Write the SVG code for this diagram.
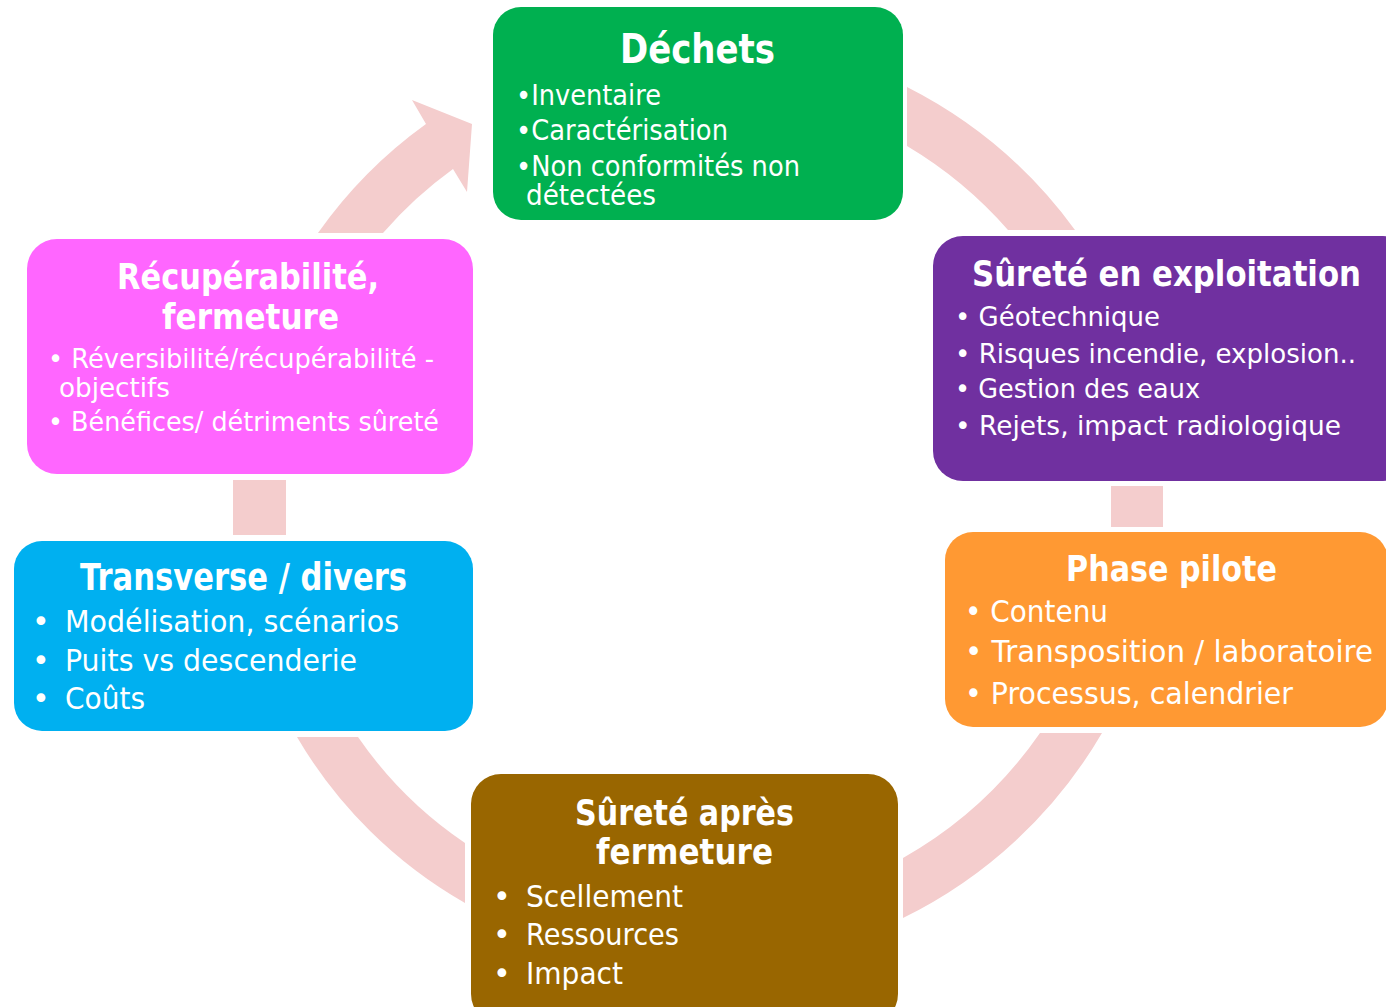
<svg xmlns="http://www.w3.org/2000/svg" width="1386" height="1007" viewBox="0 0 1386 1007">
<style>
.c{fill:#F4CDCD;stroke:none}
text{font-family:"DejaVu Sans","Liberation Sans",sans-serif;fill:#FFFFFF}
.t{font-weight:bold;text-anchor:start}
</style>
<rect width="1386" height="1007" fill="#FFFFFF"/>
<g id="connectors">
<path class="c" d="M907,87 A472,472 0 0 1 1075,230 L1008,230 A418,418 0 0 0 907,146 Z"/>
<rect class="c" x="1111" y="486" width="52" height="41"/>
<path class="c" d="M1102,733 A470,470 0 0 1 903,918 L903,858 A415,415 0 0 0 1040,733 Z"/>
<path class="c" d="M465,903 A458,458 0 0 1 297,737 L358,737 A406,406 0 0 0 465,843 Z"/>
<rect class="c" x="233" y="480" width="53" height="55"/>
<path class="c" d="M318,233 A462,462 0 0 1 426,124 L412,100 L472,124 L467,192 L453,169 A410,410 0 0 0 383,233 Z"/>
</g>
<g id="dechets">
<rect x="493" y="7" width="410" height="213" rx="28" fill="#00B050"/>
<text class="t" x="620" y="63" font-size="40" textLength="155" lengthAdjust="spacingAndGlyphs">Déchets</text>
<text x="516" y="105" font-size="28" textLength="145" lengthAdjust="spacingAndGlyphs">•Inventaire</text>
<text x="516" y="140" font-size="28" textLength="212" lengthAdjust="spacingAndGlyphs">•Caractérisation</text>
<text x="516" y="176" font-size="28" textLength="284" lengthAdjust="spacingAndGlyphs">•Non conformités non</text>
<text x="526" y="205" font-size="28" textLength="130" lengthAdjust="spacingAndGlyphs">détectées</text>
</g>
<g id="surete-exploitation">
<rect x="933" y="236" width="480" height="245" rx="30" fill="#7030A0"/>
<text class="t" x="972" y="286" font-size="36" textLength="389" lengthAdjust="spacingAndGlyphs">Sûreté en exploitation</text>
<text x="955" y="326" font-size="27" textLength="205" lengthAdjust="spacingAndGlyphs">• Géotechnique</text>
<text x="955" y="363" font-size="27" textLength="401" lengthAdjust="spacingAndGlyphs">• Risques incendie, explosion..</text>
<text x="955" y="398" font-size="27" textLength="245" lengthAdjust="spacingAndGlyphs">• Gestion des eaux</text>
<text x="955" y="435" font-size="27" textLength="386" lengthAdjust="spacingAndGlyphs">• Rejets, impact radiologique</text>
</g>
<g id="phase-pilote">
<rect x="945" y="532" width="443" height="195" rx="28" fill="#FF9933"/>
<text class="t" x="1066" y="581" font-size="36" textLength="211" lengthAdjust="spacingAndGlyphs">Phase pilote</text>
<text x="965" y="622" font-size="30" textLength="143" lengthAdjust="spacingAndGlyphs">• Contenu</text>
<text x="965" y="662" font-size="30" textLength="408" lengthAdjust="spacingAndGlyphs">• Transposition / laboratoire</text>
<text x="965" y="704" font-size="30" textLength="328" lengthAdjust="spacingAndGlyphs">• Processus, calendrier</text>
</g>
<g id="surete-apres-fermeture">
<rect x="471" y="774" width="427" height="250" rx="30" fill="#996600"/>
<text class="t" x="575" y="825" font-size="36" textLength="219" lengthAdjust="spacingAndGlyphs">Sûreté après</text>
<text class="t" x="596" y="864" font-size="36" textLength="177" lengthAdjust="spacingAndGlyphs">fermeture</text>
<text x="493" y="907" font-size="30">•</text>
<text x="526" y="907" font-size="30" textLength="157" lengthAdjust="spacingAndGlyphs">Scellement</text>
<text x="493" y="945" font-size="30">•</text>
<text x="526" y="945" font-size="30" textLength="153" lengthAdjust="spacingAndGlyphs">Ressources</text>
<text x="493" y="984" font-size="30">•</text>
<text x="526" y="984" font-size="30" textLength="97" lengthAdjust="spacingAndGlyphs">Impact</text>
</g>
<g id="transverse">
<rect x="14" y="541" width="459" height="190" rx="28" fill="#00B0F0"/>
<text class="t" x="80" y="590" font-size="37" textLength="327" lengthAdjust="spacingAndGlyphs">Transverse / divers</text>
<text x="32" y="632" font-size="30">•</text>
<text x="65" y="632" font-size="30" textLength="334" lengthAdjust="spacingAndGlyphs">Modélisation, scénarios</text>
<text x="32" y="671" font-size="30">•</text>
<text x="65" y="671" font-size="30" textLength="292" lengthAdjust="spacingAndGlyphs">Puits vs descenderie</text>
<text x="32" y="709" font-size="30">•</text>
<text x="65" y="709" font-size="30" textLength="80" lengthAdjust="spacingAndGlyphs">Coûts</text>
</g>
<g id="recuperabilite">
<rect x="27" y="239" width="446" height="235" rx="30" fill="#FF66FF"/>
<text class="t" x="117" y="289" font-size="36" textLength="262" lengthAdjust="spacingAndGlyphs">Récupérabilité,</text>
<text class="t" x="162" y="329" font-size="36" textLength="177" lengthAdjust="spacingAndGlyphs">fermeture</text>
<text x="48" y="368" font-size="26" textLength="386" lengthAdjust="spacingAndGlyphs">• Réversibilité/récupérabilité -</text>
<text x="59" y="397" font-size="26" textLength="111" lengthAdjust="spacingAndGlyphs">objectifs</text>
<text x="48" y="431" font-size="26" textLength="391" lengthAdjust="spacingAndGlyphs">• Bénéfices/ détriments sûreté</text>
</g>
</svg>
